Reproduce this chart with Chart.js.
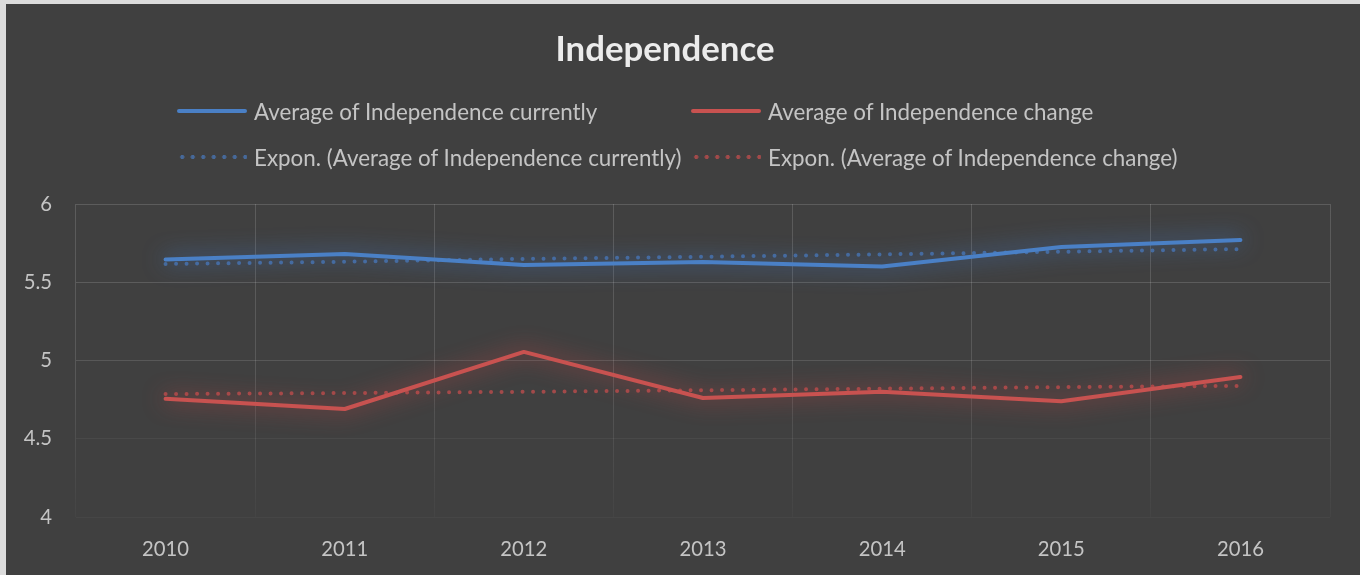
<!DOCTYPE html>
<html>
<head>
<meta charset="utf-8">
<script src="https://cdn.jsdelivr.net/npm/chart.js@4"></script>
<style>
html,body{margin:0;padding:0;background:#404040;}
#wrap{position:relative;width:1360px;height:575px;overflow:hidden;background:#404040;}
#bl{position:absolute;left:0;top:0;width:6px;height:575px;background:#dcdcdc;}
#bt{position:absolute;left:0;top:0;width:1360px;height:4px;background:#dcdcdc;}
#c{position:absolute;left:0;top:0;}
#legend{position:absolute;left:177px;top:88px;font-family:Lato,"DejaVu Sans",sans-serif;color:#c4c4c4;white-space:nowrap;}
.row{display:flex;height:46px;align-items:center;}
.item{display:flex;align-items:center;width:514px;}
.sw{width:70px;height:6px;margin-right:7px;flex:none;}
</style>
</head>
<body>
<div id="wrap">
  <canvas id="c" width="1360" height="575"></canvas>
  <div id="legend"></div>
  <div id="bl"></div>
  <div id="bt"></div>
</div>
<script>
// ---- data ----
const categories = ['2010', '2011', '2012', '2013', '2014', '2015', '2016'];
const currently = [5.645, 5.68, 5.61, 5.63, 5.60, 5.725, 5.77];
const change = [4.755, 4.69, 5.055, 4.76, 4.80, 4.74, 4.895];
const trendCurrently = [5.617, 5.631, 5.649, 5.663, 5.678, 5.695, 5.712];
const trendChange = [4.786, 4.792, 4.800, 4.810, 4.820, 4.830, 4.838];
const seriesNames = [
  'Average of Independence currently',
  'Average of Independence change',
  'Expon. (Average of Independence currently)',
  'Expon. (Average of Independence change)'
];
const yTicks = [4, 4.5, 5, 5.5, 6];

// ---- font sizing (match widths of the reference text) ----
function fit(text, weight, target) {
  const c = document.createElement('canvas').getContext('2d');
  c.font = weight + ' 100px Lato';
  return 100 * target / c.measureText(text).width;
}
const legendSize = fit(seriesNames[0], 'normal', 344);
const tickSize = fit('2010', 'normal', 47);
const titleSize = fit('Independence', 'bold', 219);

const BLUE = '#4a80c6';
const RED = '#c85250';
const BLUE_DOT = '#46699a';
const RED_DOT = '#a24a4a';

const glowPlugin = {
  id: 'glow',
  beforeDatasetDraw(chart, args) {
    const ds = chart.data.datasets[args.index];
    if (!ds.glow) return;
    const ctx = chart.ctx;
    ctx.save();
    ctx.shadowColor = ds.glow;
    ctx.shadowBlur = 22;
    ctx.shadowOffsetX = 0;
    ctx.shadowOffsetY = 0;
  },
  afterDatasetDraw(chart, args) {
    const ds = chart.data.datasets[args.index];
    if (!ds.glow) return;
    chart.ctx.restore();
  }
};

function xGridColor(ctx) {
  const ch = ctx.chart;
  const a = ch.chartArea;
  if (!a) return 'rgba(255,255,255,0.12)';
  const g = ch.ctx.createLinearGradient(0, a.top, 0, a.bottom);
  g.addColorStop(0, 'rgba(255,255,255,0.15)');
  g.addColorStop(0.55, 'rgba(255,255,255,0.13)');
  g.addColorStop(1, 'rgba(255,255,255,0.025)');
  return g;
}
function yGridColor(ctx) {
  const v = ctx.tick ? ctx.tick.value : 5;
  const m = {6: 0.15, 5.5: 0.15, 5: 0.13, 4.5: 0.05, 4: 0.03};
  return 'rgba(255,255,255,' + (m[v] !== undefined ? m[v] : 0.1) + ')';
}

const titleLine = titleSize * 1.2;
const titleTop = 50 - titleLine / 2;
const titleBottom = 204 - titleTop - titleLine;

const chart = new Chart(document.getElementById('c'), {
  type: 'line',
  data: {
    labels: categories,
    datasets: [
      {label: seriesNames[0], data: currently, borderColor: BLUE, borderWidth: 4, glow: 'rgba(70,130,215,0.95)', pointRadius: 0, tension: 0, borderCapStyle: 'round', borderJoinStyle: 'round'},
      {label: seriesNames[1], data: change, borderColor: RED, borderWidth: 4, glow: 'rgba(215,70,70,0.9)', pointRadius: 0, tension: 0, borderCapStyle: 'round', borderJoinStyle: 'round'},
      {label: seriesNames[2], data: trendCurrently, borderColor: BLUE_DOT, borderWidth: 4, borderDash: [0, 10.5], borderCapStyle: 'round', pointRadius: 0, tension: 0},
      {label: seriesNames[3], data: trendChange, borderColor: RED_DOT, borderWidth: 4, borderDash: [0, 10.5], borderCapStyle: 'round', pointRadius: 0, tension: 0}
    ]
  },
  options: {
    responsive: false,
    animation: false,
    events: [],
    layout: {padding: {left: 0, right: 30, top: 0, bottom: 0}},
    plugins: {
      legend: {display: false},
      tooltip: {enabled: false},
      title: {
        display: true,
        text: 'Independence',
        color: '#ececec',
        font: {family: 'Lato', weight: 'bold', size: titleSize, lineHeight: 1.2},
        padding: {top: titleTop, bottom: titleBottom}
      }
    },
    scales: {
      x: {
        type: 'category',
        offset: true,
        grid: {offset: true, color: xGridColor, lineWidth: 1, drawTicks: false},
        border: {display: false},
        ticks: {color: '#c4c4c4', font: {family: 'Lato', size: tickSize}, padding: 20, maxRotation: 0},
        afterFit(s) { s.height = 58; }
      },
      y: {
        min: 4,
        max: 6,
        afterBuildTicks(s) { s.ticks = yTicks.map(v => ({value: v})); },
        grid: {color: yGridColor, lineWidth: 1, drawTicks: false},
        border: {display: false},
        ticks: {color: '#c4c4c4', font: {family: 'Lato', size: tickSize}, padding: 24, callback: v => String(v)},
        afterFit(s) { s.width = 76; }
      }
    }
  },
  plugins: [glowPlugin]
});

// ---- legend (Excel-like two-column grid) ----
const legend = document.getElementById('legend');
const ds = chart.data.datasets;
for (let r = 0; r < 2; r++) {
  const row = document.createElement('div');
  row.className = 'row';
  for (let c = 0; c < 2; c++) {
    const d = ds[r * 2 + c];
    const item = document.createElement('div');
    item.className = 'item';
    const sw = document.createElement('div');
    sw.className = 'sw';
    if (d.borderDash) {
      sw.style.background = 'radial-gradient(circle, ' + d.borderColor + ' 1.8px, transparent 2.3px) 0 0 / 10.5px 6px repeat-x';
    } else {
      sw.style.height = '4px';
      sw.style.borderRadius = '2px';
      sw.style.background = d.borderColor;
    }
    const tx = document.createElement('span');
    tx.textContent = d.label;
    tx.style.fontSize = legendSize + 'px';
    item.appendChild(sw);
    item.appendChild(tx);
    row.appendChild(item);
  }
  legend.appendChild(row);
}
</script>
</body>
</html>
